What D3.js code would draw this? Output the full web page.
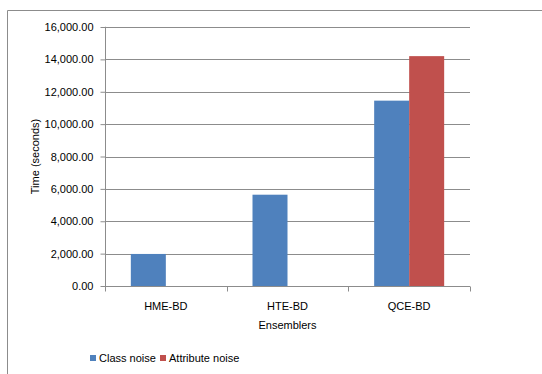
<!DOCTYPE html>
<html>
<head>
<meta charset="utf-8">
<script src="https://cdn.jsdelivr.net/npm/d3@7"></script>
<style>
  html, body { margin: 0; padding: 0; background: #fff; }
  svg { display: block; }
  text { font-family: "Liberation Sans", Arial, sans-serif; fill: #000; }
</style>
</head>
<body>
<svg id="chart" width="542" height="374"></svg>
<script>
const categories = ["HME-BD", "HTE-BD", "QCE-BD"];
const seriesNames = ["Class noise", "Attribute noise"];
const classNoise = [1980, 5640, 11450];
const attributeNoise = [null, null, 14200];
const yTicks = [0, 2000, 4000, 6000, 8000, 10000, 12000, 14000, 16000];
const colors = ["#4f81bd", "#c0504d"];

const svg = d3.select("#chart");

// chart frame (top and left edges visible)
svg.append("path")
  .attr("d", "M7.5,374 L7.5,10.5 L542,10.5")
  .attr("fill", "none")
  .attr("stroke", "#8c8c8c")
  .attr("stroke-width", 1);

const plot = { left: 105, right: 470, top: 27, bottom: 286 };

const x = d3.scaleBand().domain(categories).range([plot.left, plot.right]);
const y = d3.scaleLinear().domain([0, 16000]).range([plot.bottom, plot.top]);
const barW = 35;
// series slots inside each category
const xs = d3.scaleBand().domain(seriesNames).range([-barW, barW]);

// gridlines
svg.append("g").selectAll("line").data(yTicks.filter(d => d > 0)).join("line")
  .attr("x1", plot.left).attr("x2", plot.right)
  .attr("y1", d => Math.round(y(d)) + 0.5).attr("y2", d => Math.round(y(d)) + 0.5)
  .attr("stroke", "#8c8c8c").attr("stroke-width", 1);

// bars
const series = [classNoise, attributeNoise];
const bars = [];
categories.forEach((c, i) => series.forEach((arr, k) => {
  if (arr[i] != null) bars.push({ c, s: seriesNames[k], v: arr[i], k });
}));
svg.append("g").selectAll("rect").data(bars).join("rect")
  .attr("x", d => x(d.c) + x.bandwidth() / 2 + xs(d.s))
  .attr("y", d => y(d.v))
  .attr("width", xs.bandwidth())
  .attr("height", d => y(0) - y(d.v))
  .attr("fill", d => colors[d.k]);

// y axis
const fmt = d3.format(",.2f");
const yAxis = svg.append("g")
  .attr("transform", `translate(${plot.left + 0.5},0)`)
  .call(d3.axisLeft(y).tickValues(yTicks).tickFormat(fmt).tickSize(5).tickPadding(7));
yAxis.select(".domain").attr("stroke", "#8c8c8c").attr("d", `M-0.5,${plot.top}H0V${plot.bottom + 0.5}`);
yAxis.selectAll(".tick line").attr("stroke", "#8c8c8c");
yAxis.selectAll(".tick text").attr("font-size", "11px").attr("font-family", "Liberation Sans, Arial, sans-serif");

// x axis
const xAxis = svg.append("g")
  .attr("transform", `translate(0,${plot.bottom + 0.5})`)
  .call(d3.axisBottom(x).tickSize(0).tickPadding(16));
xAxis.select(".domain").attr("stroke", "#8c8c8c").attr("d", `M${plot.left},0H${plot.right}`);
xAxis.selectAll(".tick text").attr("font-size", "11px").attr("font-family", "Liberation Sans, Arial, sans-serif");
// category boundary ticks
const bounds = [plot.left, ...categories.map(c => x(c) + x.bandwidth())];
xAxis.selectAll(".bound").data(bounds).join("line")
  .attr("class", "bound")
  .attr("x1", d => Math.round(d) + 0.5).attr("x2", d => Math.round(d) + 0.5)
  .attr("y1", 0).attr("y2", 5)
  .attr("stroke", "#8c8c8c");

// axis titles
svg.append("text")
  .attr("x", (plot.left + plot.right) / 2).attr("y", 329)
  .attr("text-anchor", "middle").attr("font-size", "11px")
  .text("Ensemblers");
svg.append("text")
  .attr("transform", `translate(39,${(plot.top + plot.bottom) / 2}) rotate(-90)`)
  .attr("text-anchor", "middle").attr("font-size", "11px")
  .text("Time (seconds)");

// legend
const legend = svg.append("g").attr("transform", "translate(90,355)");
const legendX = [0, 70];
seriesNames.forEach((s, i) => {
  legend.append("rect").attr("x", legendX[i]).attr("y", 0).attr("width", 6).attr("height", 6).attr("fill", colors[i]);
  legend.append("text").attr("x", legendX[i] + 9).attr("y", 7).attr("font-size", "11px").text(s);
});
</script>
</body>
</html>
